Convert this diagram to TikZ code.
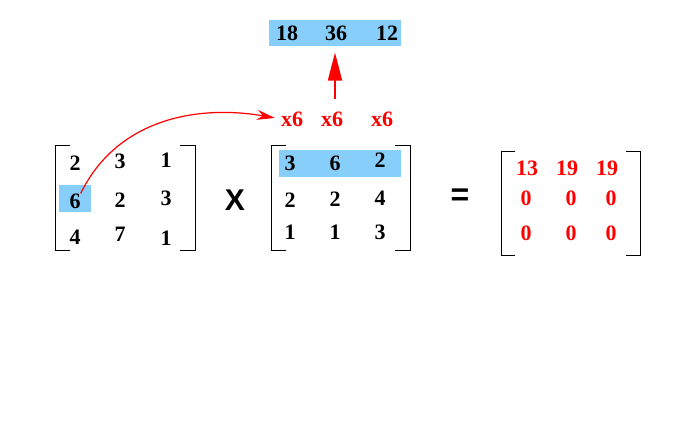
\documentclass[tikz,border=0pt]{standalone}
\usepackage{fontspec}
\setmainfont{Liberation Serif}
\newfontfamily\opfont{Liberation Sans}
\usetikzlibrary{arrows.meta}
\tikzstyle{num}=[font=\bfseries\fontsize{22}{26}\selectfont,inner sep=0pt]
\tikzstyle{rednum}=[num,text=red]
\tikzstyle{bracket}=[draw=black,line width=1pt]
\tikzstyle{hilite}=[fill={rgb,255:red,135;green,206;blue,250}]
\tikzstyle{redarrow}=[draw=red,line width=1.2pt]

\begin{document}
\begin{tikzpicture}[x=1pt,y=-1pt]
    \useasboundingbox (0,0) rectangle (687,426);
    % highlights
    \path[hilite] (269,20) rectangle (401,46);
    \path[hilite] (59,185) rectangle (91,212);
    \path[hilite] (279,150) rectangle (401,177);
    % brackets
    \draw[bracket] (70,145) -- (55,145) -- (55,250) -- (70,250);
    \draw[bracket] (180,145) -- (195,145) -- (195,250) -- (180,250);
    \draw[bracket] (286,145) -- (271,145) -- (271,250) -- (286,250);
    \draw[bracket] (395,145) -- (410,145) -- (410,250) -- (395,250);
    \draw[bracket] (515,151) -- (501,151) -- (501,255) -- (515,255);
    \draw[bracket] (626,151) -- (640,151) -- (640,255) -- (626,255);
    % first matrix
    \node[num] (a11) at (75,163) {2};
    \node[num] (a12) at (120,161) {3};
    \node[num] (a13) at (166,160) {1};
    \node[num] (a21) at (75,201) {6};
    \node[num] (a22) at (120,200) {2};
    \node[num] (a23) at (166,198) {3};
    \node[num] (a31) at (75,237) {4};
    \node[num] (a32) at (120,234) {7};
    \node[num] (a33) at (166,238) {1};
    \node[inner sep=0pt,font=\opfont\bfseries\fontsize{30}{32}\selectfont] (times) at (235,200) {X};
    % second matrix
    \node[num] (b11) at (290,163) {3};
    \node[num] (b12) at (335,163) {6};
    \node[num] (b13) at (380,160) {2};
    \node[num] (b21) at (290,200) {2};
    \node[num] (b22) at (335,199) {2};
    \node[num] (b23) at (380,198) {4};
    \node[num] (b31) at (290,232) {1};
    \node[num] (b32) at (335,232) {1};
    \node[num] (b33) at (380,232) {3};
    \node[inner sep=0pt,font=\opfont\bfseries\fontsize{32}{34}\selectfont] (equals) at (460,197) {=};
    % result
    \node[rednum] (c11) at (527,168) {13};
    \node[rednum] (c12) at (567,168) {19};
    \node[rednum] (c13) at (607,168) {19};
    \node[rednum] (c21) at (526,198) {0};
    \node[rednum] (c22) at (571,198) {0};
    \node[rednum] (c23) at (611,198) {0};
    \node[rednum] (c31) at (526,233) {0};
    \node[rednum] (c32) at (571,233) {0};
    \node[rednum] (c33) at (611,233) {0};
    % products
    \node[rednum] (m1) at (292,119) {x6};
    \node[rednum] (m2) at (332,119) {x6};
    \node[rednum] (m3) at (382,119) {x6};
    \node[num] (p1) at (287,33) {18};
    \node[num] (p2) at (336,33) {36};
    \node[num] (p3) at (387,33) {12};
    % arrows
    \draw[redarrow,-{Stealth[length=18pt,width=10pt]},shorten >=6pt]
        (a21.north east) to[out=64,in=170] (m1.west);
    \draw[redarrow,line width=1.8pt,-{Triangle[length=28pt,width=14pt]},
        shorten <=12pt,shorten >=12pt]
        ([xshift=3pt]m2.north) -- ([xshift=3pt]m2.north |- p2.south);
\end{tikzpicture}
\end{document}
